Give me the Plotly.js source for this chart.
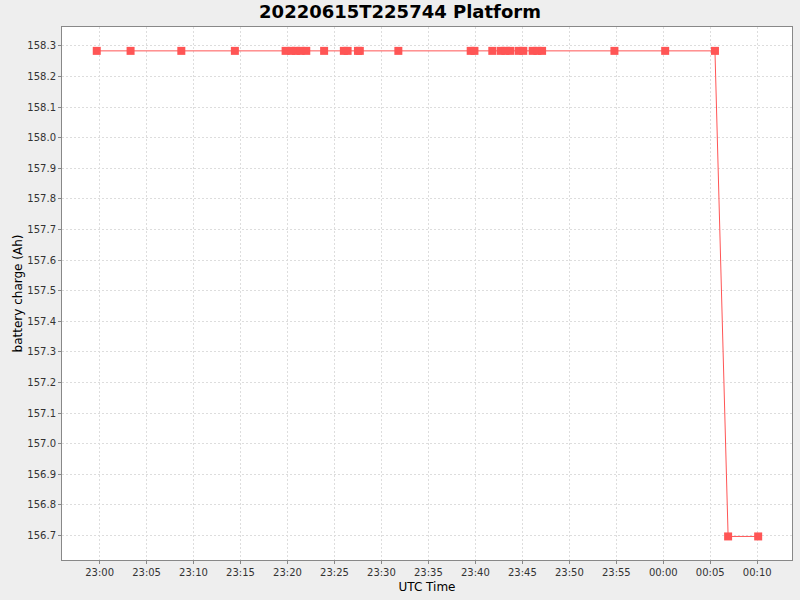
<!DOCTYPE html>
<html>
<head>
<meta charset="utf-8">
<script src="https://cdn.plot.ly/plotly-3.0.1.min.js"></script>
<style>
  html, body { margin: 0; padding: 0; background: #eeeeee; }
  #chart_area { width: 800px; height: 600px; }
</style>
</head>
<body>
<div id="chart_area"></div>
<script>
// sample times (UTC)
var times = [
    '2022-06-15 22:59:42', '2022-06-15 23:03:18', '2022-06-15 23:08:42', '2022-06-15 23:14:24',
    '2022-06-15 23:19:48', '2022-06-15 23:20:24', '2022-06-15 23:20:54', '2022-06-15 23:21:24',
    '2022-06-15 23:22:00', '2022-06-15 23:23:54', '2022-06-15 23:26:00', '2022-06-15 23:26:24',
    '2022-06-15 23:27:30', '2022-06-15 23:27:42', '2022-06-15 23:31:48', '2022-06-15 23:39:30',
    '2022-06-15 23:39:54', '2022-06-15 23:41:48', '2022-06-15 23:42:42', '2022-06-15 23:43:12',
    '2022-06-15 23:43:42', '2022-06-15 23:44:36', '2022-06-15 23:45:06', '2022-06-15 23:46:06',
    '2022-06-15 23:46:36', '2022-06-15 23:47:06', '2022-06-15 23:54:48', '2022-06-16 00:00:12',
    '2022-06-16 00:05:30', '2022-06-16 00:06:54', '2022-06-16 00:10:06'
];

// battery charge in Ah
var charge = [
    158.284, 158.284, 158.284, 158.284,
    158.284, 158.284, 158.284, 158.284,
    158.284, 158.284, 158.284, 158.284,
    158.284, 158.284, 158.284, 158.284,
    158.284, 158.284, 158.284, 158.284,
    158.284, 158.284, 158.284, 158.284,
    158.284, 158.284, 158.284, 158.284,
    158.284, 156.697, 156.697
];

var data = [
    {
        x: times,
        y: charge,
        type: 'scatter',
        mode: 'lines+markers',
        hoverinfo: 'none',
        line: { color: '#ff5555', width: 1 },
        marker: { symbol: 'square', size: 8, color: '#ff5555' }
    }
];

var axisFont = { family: 'DejaVu Sans', size: 10, color: '#333333' };

var layout = {
    width: 800,
    height: 600,
    showlegend: false,
    paper_bgcolor: '#eeeeee',
    plot_bgcolor: '#ffffff',
    margin: { l: 62, r: 8, t: 27, b: 40 },
    font: { family: 'DejaVu Sans', color: '#000000' },
    title: {
        text: '<b>20220615T225744 Platform</b>',
        font: { family: 'DejaVu Sans', size: 18, color: '#000000' },
        x: 0.5,
        xanchor: 'center',
        y: 0.98,
        yanchor: 'middle'
    },
    xaxis: {
        type: 'date',
        range: ['2022-06-15 22:56:00', '2022-06-16 00:13:42'],
        dtick: 5 * 60 * 1000,
        tick0: '2022-06-15 23:00:00',
        tickformat: '%H:%M',
        tickfont: axisFont,
        ticks: 'outside',
        ticklen: 3,
        tickcolor: '#888888',
        showgrid: true,
        gridcolor: '#dddddd',
        griddash: '2px,2px',
        showline: true,
        linecolor: '#888888',
        mirror: true,
        zeroline: false,
        title: { text: 'UTC Time', font: { family: 'DejaVu Sans', size: 12, color: '#000000' }, standoff: 5 }
    },
    yaxis: {
        range: [156.62, 158.362],
        dtick: 0.1,
        tick0: 156.7,
        tickformat: '.1f',
        tickfont: axisFont,
        ticks: 'outside',
        ticklen: 3,
        tickcolor: '#888888',
        showgrid: true,
        gridcolor: '#dddddd',
        griddash: '2px,2px',
        showline: true,
        linecolor: '#888888',
        mirror: true,
        zeroline: false,
        title: { text: 'battery charge (Ah)', font: { family: 'DejaVu Sans', size: 12, color: '#000000' }, standoff: 2 }
    }
};

var config = { staticPlot: true, displayModeBar: false };

Plotly.newPlot('chart_area', data, layout, config);
</script>
</body>
</html>
